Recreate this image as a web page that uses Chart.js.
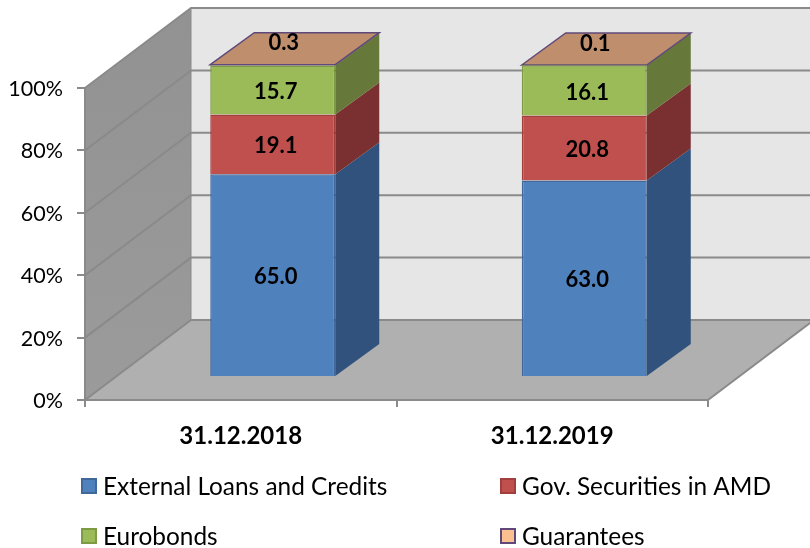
<!DOCTYPE html>
<html>
<head>
<meta charset="utf-8">
<title>Debt structure</title>
<script src="https://cdn.jsdelivr.net/npm/chart.js@4"></script>
<style>
  html, body { margin: 0; padding: 0; background: #fff; }
  canvas { display: block; }
</style>
</head>
<body>
<canvas id="chart" width="810" height="548"></canvas>
<script>
const categories = ["31.12.2018", "31.12.2019"];
const seriesNames = ["External Loans and Credits", "Gov. Securities in AMD", "Eurobonds", "Guarantees"];
const externalLoans = [65.0, 63.0];
const govSecurities = [19.1, 20.8];
const eurobonds = [15.7, 16.1];
const guarantees = [0.3, 0.1];
const yTicks = [0, 20, 40, 60, 80, 100];

const fills = ["#4f81bd", "#c0504d", "#9bbb59", "#fac090"];
const borders = ["#41689a", "#a03f3c", "#7e9a45", "#5f497a"];
const sides = ["#30527c", "#7a3030", "#66793a", "#66793a"];

const FONT = "Lato, Carlito, sans-serif";
// depth of the box and of the bars, in px
const wallDx = 106, wallDy = -80;
const barShiftX = 32, barShiftY = -23;
const barDx = 44, barDy = -32;

function poly(ctx, pts, fill, stroke, lw) {
  ctx.beginPath();
  pts.forEach((p, i) => (i ? ctx.lineTo(p[0], p[1]) : ctx.moveTo(p[0], p[1])));
  ctx.closePath();
  if (fill) { ctx.fillStyle = fill; ctx.fill(); }
  if (stroke) { ctx.strokeStyle = stroke; ctx.lineWidth = lw || 1; ctx.stroke(); }
}

const box3d = {
  id: "box3d",
  beforeDraw(chart) {
    const { ctx, scales: { y }, chartArea: a } = chart;
    const y0 = y.getPixelForValue(0), y100 = y.getPixelForValue(100);
    const edge = "#8a8a8a";
    ctx.save();
    // back wall
    poly(ctx, [[a.left + wallDx, y100 + wallDy], [a.right + wallDx, y100 + wallDy],
      [a.right + wallDx, y0 + wallDy], [a.left + wallDx, y0 + wallDy]], "#e6e6e6");
    // left wall
    const g = ctx.createLinearGradient(0, y100 + wallDy, 0, y0);
    g.addColorStop(0, "#929292");
    g.addColorStop(1, "#9b9b9b");
    poly(ctx, [[a.left, y100], [a.left + wallDx, y100 + wallDy], [a.left + wallDx, y0 + wallDy], [a.left, y0]], g);
    // floor
    poly(ctx, [[a.left, y0], [a.left + wallDx, y0 + wallDy], [a.right + wallDx, y0 + wallDy], [a.right, y0]], "#b0b0b0");
    // grid lines, along the left wall then the back wall
    yTicks.forEach((t) => {
      const py = y.getPixelForValue(t);
      ctx.beginPath();
      ctx.moveTo(a.left, py);
      ctx.lineTo(a.left + wallDx, py + wallDy);
      ctx.lineTo(a.right + wallDx, py + wallDy);
      if (t === 0) ctx.lineTo(a.right, py);
      ctx.strokeStyle = edge;
      ctx.lineWidth = 2;
      ctx.stroke();
    });
    ctx.beginPath();
    ctx.moveTo(a.left + wallDx, y100 + wallDy);
    ctx.lineTo(a.left + wallDx, y0 + wallDy);
    ctx.strokeStyle = edge;
    ctx.lineWidth = 1;
    ctx.stroke();
    ctx.restore();
  },
  beforeDatasetsDraw(chart) {
    const { ctx } = chart;
    ctx.save();
    ctx.translate(barShiftX, barShiftY);
    // side faces, and the top of the last series
    chart.data.datasets.forEach((ds, i) => {
      chart.getDatasetMeta(i).data.forEach((bar) => {
        const r = bar.x + bar.width / 2, l = bar.x - bar.width / 2;
        poly(ctx, [[r, bar.y], [r + barDx, bar.y + barDy], [r + barDx, bar.base + barDy], [r, bar.base]], sides[i]);
        if (i === chart.data.datasets.length - 1) {
          poly(ctx, [[l, bar.y], [l + barDx, bar.y + barDy], [r + barDx, bar.y + barDy], [r, bar.y]], "#bf8f6d", borders[i], 1.5);
        }
      });
    });
  },
  afterDatasetsDraw(chart) {
    const { ctx } = chart;
    ctx.restore();
    // value labels
    ctx.save();
    ctx.font = "bold 22px " + FONT;
    ctx.fillStyle = "#000";
    ctx.textAlign = "center";
    ctx.textBaseline = "middle";
    chart.data.datasets.forEach((ds, i) => {
      chart.getDatasetMeta(i).data.forEach((bar, j) => {
        const last = i === chart.data.datasets.length - 1;
        const x = bar.x + barShiftX + (last ? 11 : 3);
        const y = last ? bar.y + barShiftY - 21.5 : (bar.y + bar.base) / 2 + barShiftY + 2;
        ctx.fillText(ds.data[j].toFixed(1), x, y);
      });
    });
    ctx.restore();
  },
  afterDraw(chart) {
    // two column legend under the axis
    const { ctx } = chart;
    const cols = [81, 500], rows = [478, 528];
    ctx.save();
    ctx.font = "24.4px " + FONT;
    ctx.textBaseline = "middle";
    seriesNames.forEach((name, i) => {
      const x = cols[i % 2], y = rows[Math.floor(i / 2)];
      ctx.fillStyle = fills[i];
      ctx.fillRect(x + 1, y + 1, 14, 14);
      ctx.strokeStyle = borders[i];
      ctx.lineWidth = 2;
      ctx.strokeRect(x + 1, y + 1, 14, 14);
      ctx.fillStyle = "#000";
      ctx.fillText(name, x + 22, y + 9);
    });
    ctx.restore();
  },
};

const seriesValues = [externalLoans, govSecurities, eurobonds, guarantees];

new Chart(document.getElementById("chart"), {
  type: "bar",
  data: {
    labels: categories,
    datasets: seriesValues.map((values, i) => ({
      label: seriesNames[i],
      data: values,
      backgroundColor: fills[i],
      borderColor: borders[i],
      borderWidth: 1.5,
      barPercentage: 0.4013,
      categoryPercentage: 1,
      clip: false,
    })),
  },
  options: {
    responsive: false,
    animation: false,
    layout: { padding: { top: 88, right: 102, left: 0, bottom: 0 } },
    plugins: { legend: { display: false }, tooltip: { enabled: false } },
    scales: {
      x: {
        stacked: true,
        afterFit: (s) => { s.height = 148; },
        grid: { offset: true, drawOnChartArea: false, tickLength: 7, color: "#8a8a8a", lineWidth: 2 },
        border: { color: "#8a8a8a", width: 2 },
        ticks: { color: "#000", padding: 15, font: { family: FONT, size: 24, weight: "bold" }, maxRotation: 0 },
      },
      y: {
        stacked: true,
        min: 0,
        max: 100,
        afterFit: (s) => { s.width = 85; },
        afterBuildTicks: (s) => { s.ticks = yTicks.map((v) => ({ value: v })); },
        grid: { drawOnChartArea: false, tickLength: 8, color: "#8a8a8a", lineWidth: 2 },
        border: { color: "#8a8a8a", width: 2 },
        ticks: { color: "#000", padding: 14, labelOffset: 1, font: { family: FONT, size: 21.5 }, callback: (v) => v + "%" },
      },
    },
  },
  plugins: [box3d],
});
</script>
</body>
</html>
